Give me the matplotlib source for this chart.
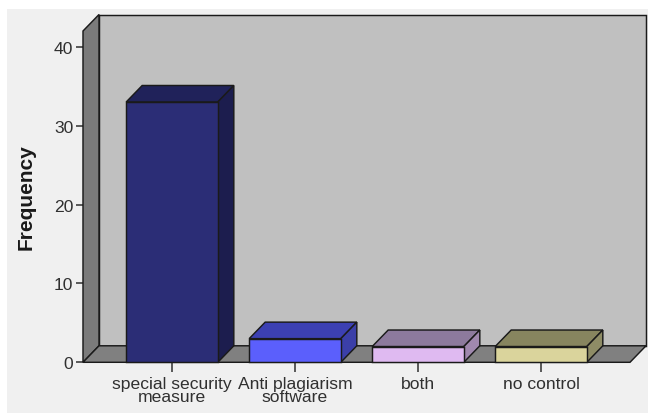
import matplotlib
matplotlib.use("Agg")
import matplotlib.pyplot as plt
from matplotlib.patches import Polygon, Rectangle

plt.rcParams['font.family'] = ['Liberation Sans', 'DejaVu Sans']

categories = ["special security\nmeasure", "Anti plagiarism\nsoftware", "both", "no control"]
frequency = [33, 3, 2, 2]
y_ticks = [0, 10, 20, 30, 40]

front_colors = ["#2b2d76", "#5b5ffc", "#dfbaf1", "#dad49c"]
top_colors = ["#20225a", "#3c40b3", "#8d7a9d", "#87855f"]
side_colors = ["#1c1d4e", "#3b3fa8", "#a088ae", "#8e8c66"]

W, H = 648, 414
fig = plt.figure(figsize=(W / 100, H / 100), dpi=100, facecolor="#f0f0f0")

# thin white margin along top and left
fig.patches.append(Rectangle((0, 1 - 10 / H), 1, 10 / H, transform=fig.transFigure,
                             facecolor="white", edgecolor="none", zorder=-5))
fig.patches.append(Rectangle((0, 0), 7 / W, 1, transform=fig.transFigure,
                             facecolor="white", edgecolor="none", zorder=-5))

# plot frame in pixels: front-left x, front-right x, y of zero, y of top
px_l, px_r, px_0, px_top = 83, 630, 363.3, 32
ymax = 42
ax = fig.add_axes([px_l / W, 1 - px_0 / H, (px_r - px_l) / W, (px_0 - px_top) / H])
ax.set_facecolor("none")

spacing_px = 123.0
xl = -(172 - px_l) / spacing_px
xr = 3 + (px_r - 541) / spacing_px
ax.set_xlim(xl, xr)
ax.set_ylim(0, ymax)

# 3D depth expressed in data units
px_per_unit = (px_0 - px_top) / ymax
dx = 16 / spacing_px
dy = 16.5 / px_per_unit

edge = "#1a1a1a"
lw = 1.05

def face(pts, color, z):
    ax.add_patch(Polygon(pts, closed=True, facecolor=color, edgecolor=edge,
                         linewidth=lw, clip_on=False, zorder=z, joinstyle="miter"))

# back wall, left wall, floor
face([(xl + dx, dy), (xr + dx, dy), (xr + dx, ymax + dy), (xl + dx, ymax + dy)], "#c0c0c0", 1)
face([(xl, 0), (xl + dx, dy), (xl + dx, ymax + dy), (xl, ymax)], "#7b7b7b", 2)
face([(xl, 0), (xr, 0), (xr + dx, dy), (xl + dx, dy)], "#808080", 2)

# bars
bw = 0.745
for i, v in enumerate(frequency):
    x0, x1 = i - bw / 2, i + bw / 2
    face([(x0, 0), (x1, 0), (x1, v), (x0, v)], front_colors[i], 5)
    face([(x0, v), (x1, v), (x1 + dx, v + dy), (x0 + dx, v + dy)], top_colors[i], 4)
    face([(x1, 0), (x1 + dx, dy), (x1 + dx, v + dy), (x1, v)], side_colors[i], 4)

for s in ax.spines.values():
    s.set_visible(False)

ax.set_xticks(range(len(categories)))
ax.set_xticklabels(categories, fontsize=12.6, color="#303030", linespacing=0.82)
ax.set_yticks(y_ticks)
ax.set_yticklabels([str(t) for t in y_ticks], fontsize=12.6, color="#303030")
ax.tick_params(axis="x", length=7.5, width=1.1, color="#303030", pad=2.5)
ax.tick_params(axis="y", length=5, width=1.1, color="#303030", pad=2)

fig.text(26 / W, 1 - 197 / H, "Frequency", rotation=90, fontsize=15, fontweight="bold",
         color="#1a1a1a", ha="center", va="center")

fig.savefig("out.png", dpi=100, facecolor=fig.get_facecolor())
